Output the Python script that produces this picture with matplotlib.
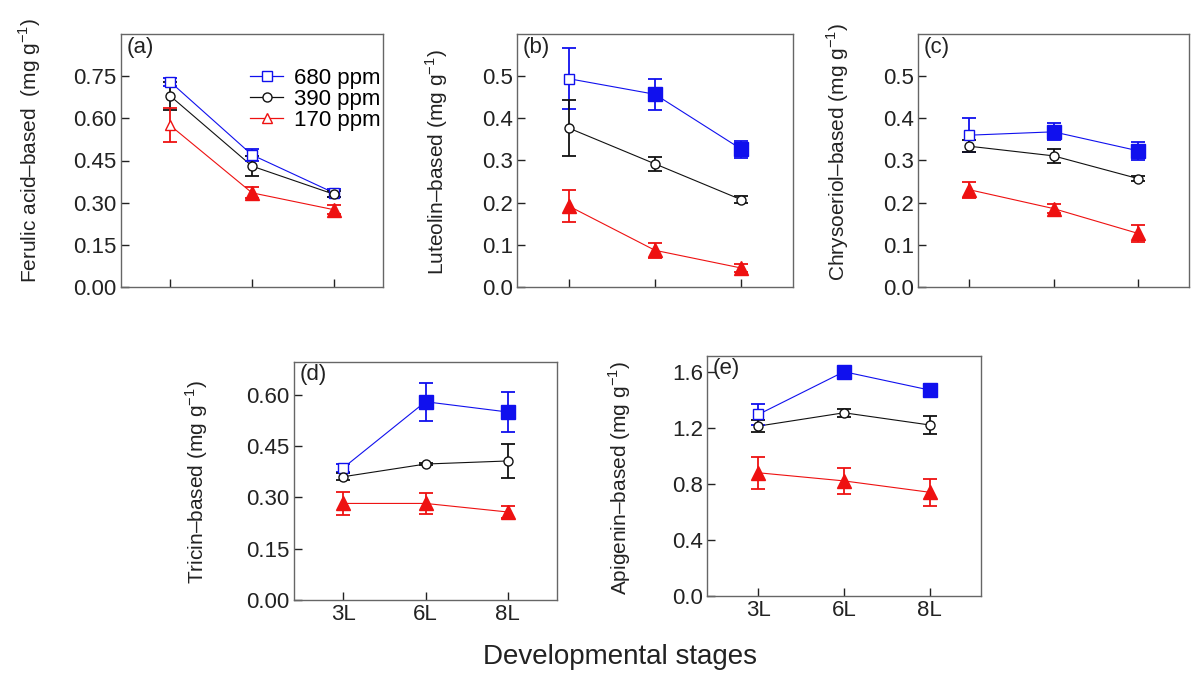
import numpy as np
import matplotlib
matplotlib.use('Agg')
import matplotlib.pyplot as plt

plt.rcParams['font.family'] = ['Liberation Sans', 'DejaVu Sans']
plt.rcParams['mathtext.fontset'] = 'custom'
plt.rcParams['mathtext.rm'] = 'Liberation Sans'

stages = ['3L', '6L', '8L']
series = ['680 ppm', '390 ppm', '170 ppm']

# (a) Ferulic acid-based
ferulic_680 = [0.730, 0.470, 0.335]
ferulic_680_err = [0.015, 0.020, 0.015]
ferulic_390 = [0.680, 0.430, 0.330]
ferulic_390_err = [0.050, 0.035, 0.010]
ferulic_170 = [0.575, 0.335, 0.275]
ferulic_170_err = [0.060, 0.020, 0.015]

# (b) Luteolin-based
luteolin_680 = [0.494, 0.457, 0.327]
luteolin_680_err = [0.072, 0.037, 0.020]
luteolin_390 = [0.377, 0.292, 0.207]
luteolin_390_err = [0.067, 0.016, 0.008]
luteolin_170 = [0.192, 0.087, 0.045]
luteolin_170_err = [0.037, 0.018, 0.010]

# (c) Chrysoeriol-based
chryso_680 = [0.360, 0.368, 0.323]
chryso_680_err = [0.040, 0.020, 0.021]
chryso_390 = [0.334, 0.311, 0.257]
chryso_390_err = [0.015, 0.016, 0.006]
chryso_170 = [0.231, 0.186, 0.127]
chryso_170_err = [0.019, 0.010, 0.021]

# (d) Tricin-based
tricin_680 = [0.386, 0.579, 0.549]
tricin_680_err = [0.011, 0.055, 0.058]
tricin_390 = [0.360, 0.397, 0.406]
tricin_390_err = [0.010, 0.004, 0.050]
tricin_170 = [0.282, 0.282, 0.257]
tricin_170_err = [0.033, 0.030, 0.018]

# (e) Apigenin-based
apigenin_680 = [1.295, 1.600, 1.469]
apigenin_680_err = [0.077, 0.020, 0.030]
apigenin_390 = [1.212, 1.307, 1.220]
apigenin_390_err = [0.040, 0.030, 0.065]
apigenin_170 = [0.879, 0.821, 0.740]
apigenin_170_err = [0.113, 0.090, 0.097]

# filled (1) / open (0) markers per point
fill_680_a = [0, 0, 0]
fill_680 = [0, 1, 1]
fill_170_a = [0, 1, 1]
fill_170 = [1, 1, 1]
fill_390 = [0, 0, 0]

colors = ['#1010ee', '#111111', '#ee1111']
markers = ['s', 'o', '^']

W, H = 1191, 673
fig = plt.figure(figsize=(W / 100, H / 100), dpi=100)


def box(l, t, r, b):
    return [l / W, 1 - b / H, (r - l) / W, (b - t) / H]


panels = [
    dict(rect=box(121, 34, 383, 287), tag='(a)', ylim=0.9, ticks=np.arange(0, 0.76, 0.15), fmt='%.2f',
         ylabel='Ferulic acid\u2013based  (mg g$^{-1}$)', lab=(30, 150),
         data=[(ferulic_680, ferulic_680_err, fill_680_a), (ferulic_390, ferulic_390_err, fill_390),
               (ferulic_170, ferulic_170_err, fill_170_a)], xlabels=False),
    dict(rect=box(517, 34, 793, 287), tag='(b)', ylim=0.6, ticks=np.arange(0, 0.51, 0.1), fmt='%.1f',
         ylabel='Luteolin\u2013based (mg g$^{-1}$)', lab=(437, 162),
         data=[(luteolin_680, luteolin_680_err, fill_680), (luteolin_390, luteolin_390_err, fill_390),
               (luteolin_170, luteolin_170_err, fill_170)], xlabels=False),
    dict(rect=box(918, 34, 1189, 287), tag='(c)', ylim=0.6, ticks=np.arange(0, 0.51, 0.1), fmt='%.1f',
         ylabel='Chrysoeriol\u2013based (mg g$^{-1}$)', lab=(838, 152),
         data=[(chryso_680, chryso_680_err, fill_680), (chryso_390, chryso_390_err, fill_390),
               (chryso_170, chryso_170_err, fill_170)], xlabels=False),
    dict(rect=box(294, 362, 557, 600), tag='(d)', ylim=0.695, ticks=np.arange(0, 0.61, 0.15), fmt='%.2f',
         ylabel='Tricin\u2013based (mg g$^{-1}$)', lab=(197, 482),
         data=[(tricin_680, tricin_680_err, fill_680), (tricin_390, tricin_390_err, fill_390),
               (tricin_170, tricin_170_err, fill_170)], xlabels=True),
    dict(rect=box(707, 356, 981, 596), tag='(e)', ylim=1.712, ticks=np.arange(0, 1.61, 0.4), fmt='%.1f',
         ylabel='Apigenin\u2013based (mg g$^{-1}$)', lab=(620, 478),
         data=[(apigenin_680, apigenin_680_err, fill_680), (apigenin_390, apigenin_390_err, fill_390),
               (apigenin_170, apigenin_170_err, fill_170)], xlabels=True),
]

x = np.arange(len(stages))
for p in panels:
    ax = fig.add_axes(p['rect'])
    for i, (vals, errs, fill) in enumerate(p['data']):
        c = colors[i]
        ax.plot(x, vals, '-', color=c, lw=0.8, zorder=2)
        ax.errorbar(x, vals, yerr=errs, fmt='none', ecolor=c, elinewidth=1.3, capsize=5,
                    capthick=1.3, zorder=3)
        for xi, v, f in zip(x, vals, fill):
            if f:
                ax.plot(xi, v, marker=markers[i], ms=10, color=c, mec=c, ls='none', zorder=4)
            else:
                ax.plot(xi, v, marker=markers[i], ms=6.5, mfc='white', mec=c, mew=1.0, ls='none', zorder=4)
    ax.set_xlim(-0.6, 2.6)
    ax.set_ylim(0, p['ylim'])
    ax.set_yticks(p['ticks'])
    ax.set_yticklabels([p['fmt'] % t for t in p['ticks']])
    ax.set_xticks(x)
    if p['xlabels']:
        ax.set_xticklabels(stages)
    else:
        ax.set_xticklabels([])
    ax.tick_params(direction='in', length=6, width=1, labelsize=16, colors='#222222', pad=3)
    for s in ax.spines.values():
        s.set_color('#666666')
        s.set_linewidth(1)
    ax.text(0.02, 0.99, p['tag'], transform=ax.transAxes, ha='left', va='top', fontsize=16,
            color='#222222')
    fig.text(p['lab'][0] / W, 1 - p['lab'][1] / H, p['ylabel'], rotation=90, ha='center', va='center',
             fontsize=15, color='#222222')

    if p['tag'] == '(a)':
        handles = [plt.Line2D([], [], color=colors[i], marker=markers[i], ms=6.5, mfc='white', mec=colors[i],
                              lw=0.9) for i in range(3)]
        ax.legend(handles, series, loc='upper right', frameon=False, fontsize=16, handlelength=1.5,
                  labelspacing=0.0, handletextpad=0.5, borderaxespad=0.1, bbox_to_anchor=(1.035, 0.91))

fig.text(620 / W, 1 - 657 / H, 'Developmental stages', ha='center', va='center', fontsize=20,
         color='#222222')

fig.savefig('out.png', dpi=100)
